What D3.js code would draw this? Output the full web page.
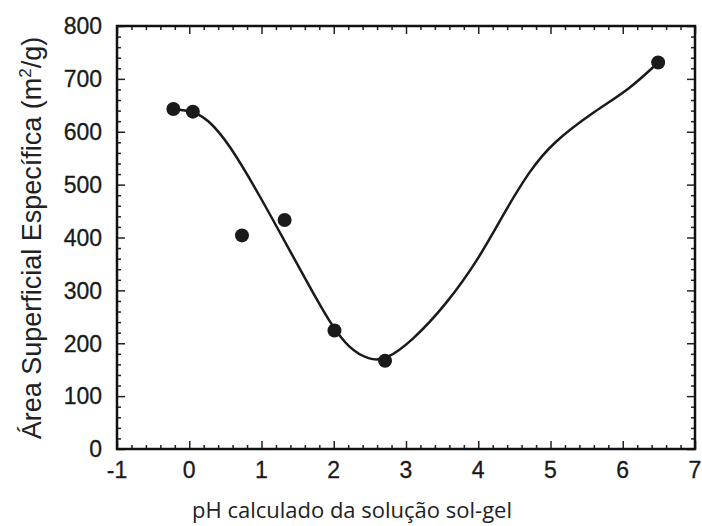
<!DOCTYPE html>
<html>
<head>
<meta charset="utf-8">
<script src="https://cdn.jsdelivr.net/npm/d3@7"></script>
<style>
  body { margin: 0; background: #fff; }
</style>
</head>
<body>
<svg id="chart" width="702" height="526"></svg>
<script>
// measured points
const phValues = [-0.22, 0.05, 0.73, 1.32, 2.01, 2.71, 6.49];
const areaValues = [643, 638, 404, 433, 224, 167, 731];

// fitted curve
const curveX = [-0.22, 0.05, 0.05, 0.25, 0.55, 0.98, 1.30, 1.67, 1.94, 2.22, 2.49, 2.71, 3.09, 3.55, 4.02, 4.38, 4.71, 5.03, 5.63, 6.09, 6.49, 6.49];
const curveY = [643, 638, 638, 625, 578, 478, 398, 306, 240, 188, 169, 167, 205, 272, 362, 452, 526, 580, 641, 680, 731, 731];

const xTicks = [-1, 0, 1, 2, 3, 4, 5, 6, 7];
const yTicks = [0, 100, 200, 300, 400, 500, 600, 700, 800];

const svg = d3.select("svg#chart");
const margin = { top: 26, right: 7, bottom: 77, left: 117 };
const width = +svg.attr("width");
const height = +svg.attr("height");
const chartWidth = width - margin.left - margin.right;
const chartHeight = height - margin.top - margin.bottom;

const x = d3.scaleLinear().domain([-1, 7]).range([0, chartWidth]);
const y = d3.scaleLinear().domain([0, 800]).range([chartHeight, 0]);

const g = svg.append("g").attr("transform", `translate(${margin.left},${margin.top})`);

const xMinor = d3.range(-1, 7.001, 0.2).filter(v => Math.abs(v - Math.round(v)) > 0.01);
const yMinor = d3.range(0, 801, 20).filter(v => v % 100 !== 0);

function tickStyle(sel) {
  sel.select(".domain").remove();
  sel.selectAll(".tick line").attr("stroke", "#222").attr("stroke-width", 1.5);
}

// inward ticks on all four sides
g.append("g").attr("transform", `translate(0,${chartHeight})`)
  .call(d3.axisTop(x).tickValues(xTicks).tickSize(8).tickFormat(""))
  .call(tickStyle);
g.append("g").attr("transform", `translate(0,${chartHeight})`)
  .call(d3.axisTop(x).tickValues(xMinor).tickSize(4).tickFormat(""))
  .call(tickStyle);
g.append("g")
  .call(d3.axisBottom(x).tickValues(xTicks).tickSize(8).tickFormat(""))
  .call(tickStyle);
g.append("g")
  .call(d3.axisBottom(x).tickValues(xMinor).tickSize(4).tickFormat(""))
  .call(tickStyle);
g.append("g")
  .call(d3.axisRight(y).tickValues(yTicks).tickSize(8).tickFormat(""))
  .call(tickStyle);
g.append("g")
  .call(d3.axisRight(y).tickValues(yMinor).tickSize(4).tickFormat(""))
  .call(tickStyle);
g.append("g").attr("transform", `translate(${chartWidth},0)`)
  .call(d3.axisLeft(y).tickValues(yTicks).tickSize(8).tickFormat(""))
  .call(tickStyle);
g.append("g").attr("transform", `translate(${chartWidth},0)`)
  .call(d3.axisLeft(y).tickValues(yMinor).tickSize(4).tickFormat(""))
  .call(tickStyle);

// tick labels
g.selectAll("text.xlab").data(xTicks).enter().append("text")
  .attr("class", "xlab")
  .attr("x", d => x(d))
  .attr("y", chartHeight + 29)
  .attr("text-anchor", "middle")
  .style("font", "23px 'Liberation Sans', Arial")
  .style("fill", "#1a1a1a")
  .style("stroke", "#1a1a1a")
  .style("stroke-width", 0.3)
  .text(d => d);

g.selectAll("text.ylab").data(yTicks).enter().append("text")
  .attr("class", "ylab")
  .attr("x", -15)
  .attr("y", d => y(d))
  .attr("dy", "0.36em")
  .attr("text-anchor", "end")
  .style("font", "23px 'Liberation Sans', Arial")
  .style("fill", "#1a1a1a")
  .style("stroke", "#1a1a1a")
  .style("stroke-width", 0.3)
  .text(d => d);

// frame
g.append("rect")
  .attr("x", 0).attr("y", 0)
  .attr("width", chartWidth).attr("height", chartHeight)
  .attr("fill", "none")
  .attr("stroke", "#111")
  .attr("stroke-width", 2.5);

// curve
const curveData = curveX.map((v, i) => [v, curveY[i]]);
const line = d3.line()
  .x(d => x(d[0]))
  .y(d => y(d[1]))
  .curve(d3.curveBasis);

g.append("path")
  .datum(curveData)
  .attr("d", line)
  .attr("fill", "none")
  .attr("stroke", "#1a1a1a")
  .attr("stroke-width", 2.5);

// points
g.selectAll("circle").data(phValues).enter().append("circle")
  .attr("cx", d => x(d))
  .attr("cy", (d, i) => y(areaValues[i]))
  .attr("r", 7)
  .attr("fill", "#1a1a1a");

// axis titles
svg.append("text")
  .attr("x", 352)
  .attr("y", 518)
  .attr("text-anchor", "middle")
  .style("font", "22px 'Open Sans', 'Noto Sans', sans-serif")
  .style("fill", "#222")
  .text("pH calculado da solução sol-gel");

const yTitle = svg.append("text")
  .attr("transform", "translate(41,238) rotate(-90)")
  .attr("text-anchor", "middle")
  .style("font", "27px 'Liberation Sans', Arial")
  .style("fill", "#222");
yTitle.append("tspan").text("Área Superficial Específica (m");
yTitle.append("tspan").attr("dy", -10).style("font-size", "17px").text("2");
yTitle.append("tspan").attr("dy", 10).text("/g)");
</script>
</body>
</html>
